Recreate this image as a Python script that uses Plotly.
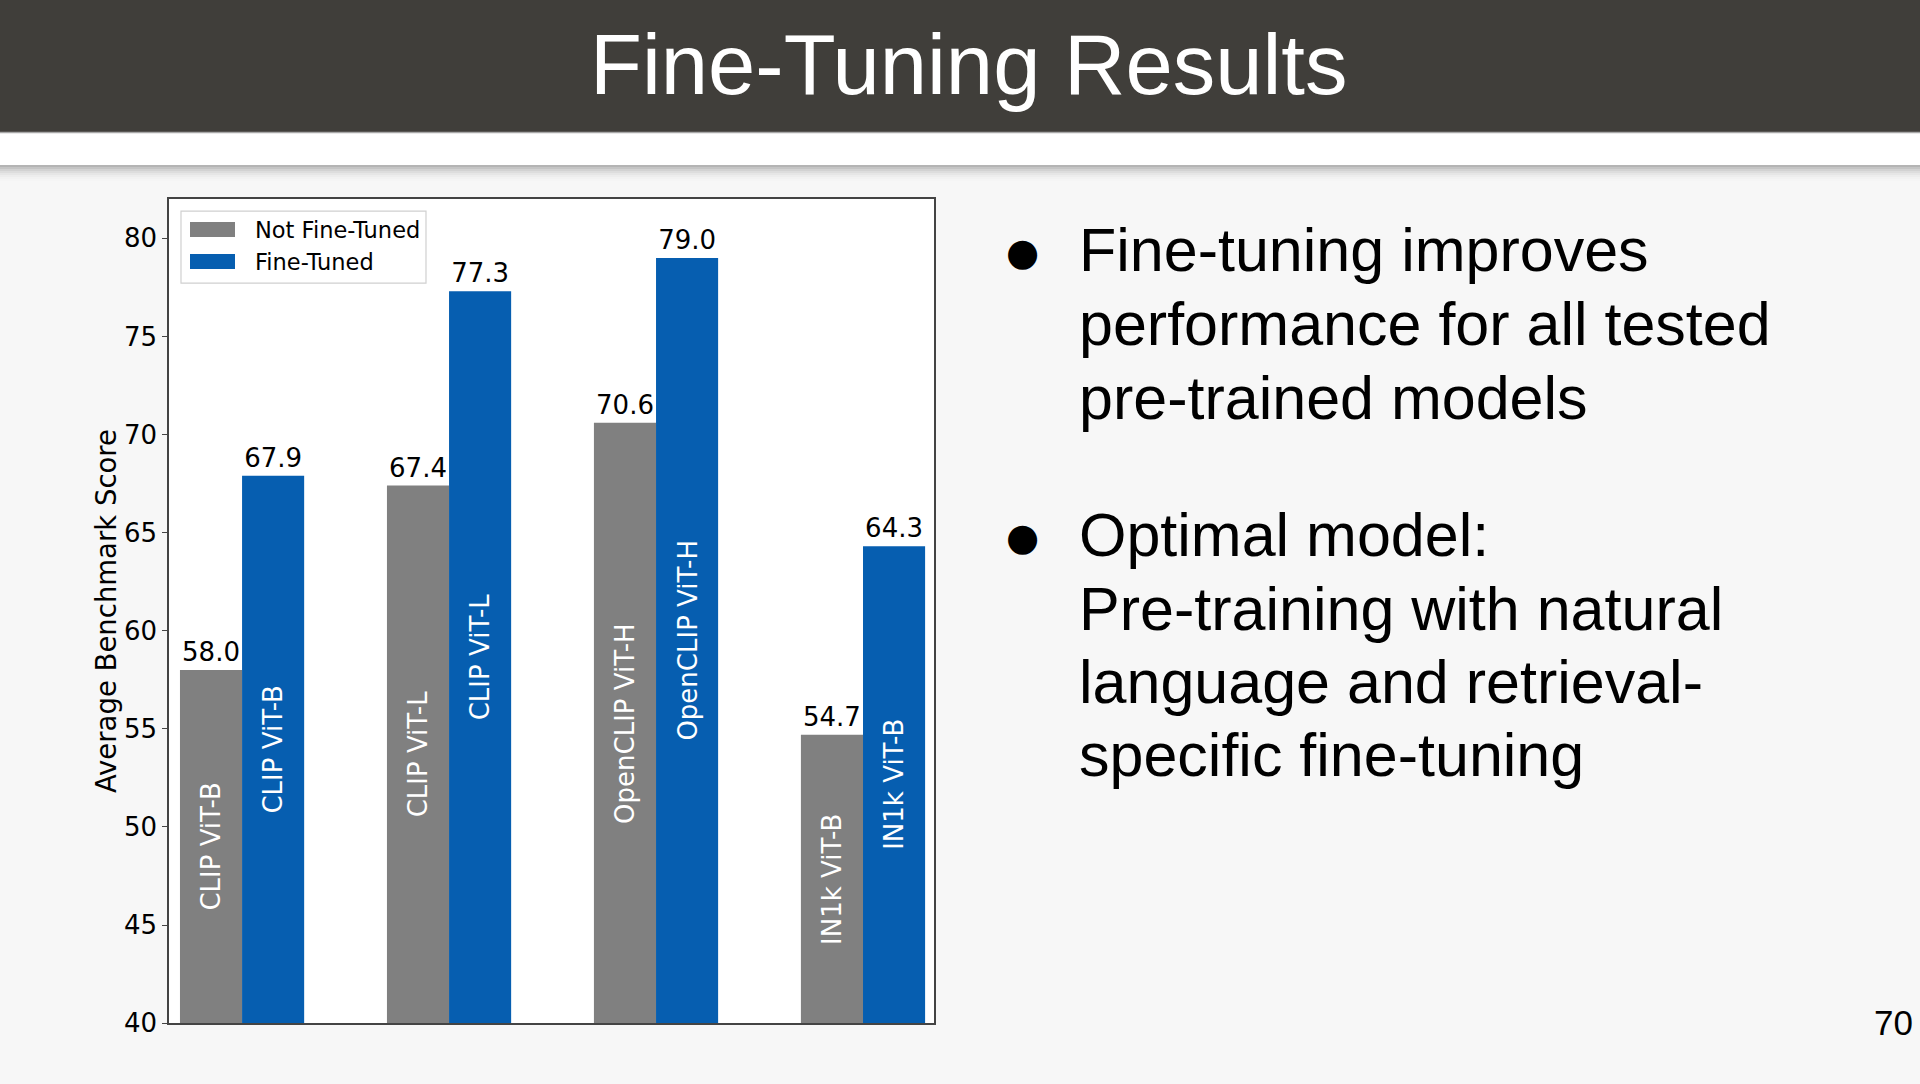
import plotly.graph_objects as go

# ---------------- data ----------------
groups = ["CLIP ViT-B", "CLIP ViT-L", "OpenCLIP ViT-H", "IN1k ViT-B"]
not_ft_names = ["CLIP ViT-B", "CLIP ViT-L", "OpenCLIP ViT-H", "IN1k ViT-B"]
ft_names = ["CLIP ViT-B", "CLIP ViT-L", "OpenCLIP ViT-H", "IN1k ViT-B"]
not_ft_values = [58.0, 67.4, 70.6, 54.7]
ft_values = [67.9, 77.3, 79.0, 64.3]
series_names = ["Not Fine-Tuned", "Fine-Tuned"]
y_range = [40, 82]
y_title = "Average Benchmark Score"
slide_title = "Fine-Tuning Results"
bullet1 = ["Fine-tuning improves", "performance for all tested", "pre-trained models"]
bullet2 = ["Optimal model:", "Pre-training with natural", "language and retrieval-", "specific fine-tuning"]
page_number = "70"

# ---------------- style ----------------
W, H = 1920, 1084
SY = 1.0142  # vertical compensation for the capture
GRAY = "#808080"
BLUE = "#065EB0"
CHART_FONT = "DejaVu Sans"
SLIDE_FONT = "Liberation Sans, Arial"
BG = "#F7F7F7"


def px_x(x):
    return x / W


def px_y(y):
    return 1 - y * SY / H


fig = go.Figure()

bar_w = 0.3
series = [
    (not_ft_names, not_ft_values, GRAY, series_names[0], -bar_w),
    (ft_names, ft_values, BLUE, series_names[1], 0.0),
]
for names, vals, color, sname, off in series:
    fig.add_trace(go.Bar(
        x=list(range(len(groups))), y=vals, name=sname, base=None,
        marker=dict(color=color, line=dict(width=0)),
        width=bar_w, offset=off,
        text=[f"{v:.1f}" for v in vals], textposition="outside",
        textangle=0, constraintext="none", cliponaxis=False,
        outsidetextfont=dict(family=CHART_FONT, size=26, color="black"),
        hovertext=names, hoverinfo="text+y",
        showlegend=False,
    ))

annotations = []
# rotated model names inside the bars (centred on the visible part of each bar)
for names, vals, color, sname, off in series:
    for i, (nm, v) in enumerate(zip(names, vals)):
        annotations.append(dict(
            text=nm, xref="x", yref="y", x=i + off + bar_w / 2, y=(y_range[0] + v) / 2,
            xanchor="center", yanchor="middle", textangle=-90, showarrow=False,
            font=dict(family=CHART_FONT, size=26, color="white")))

shapes = []
# header bar
shapes.append(dict(type="rect", xref="paper", yref="paper", x0=0, x1=1,
                   y0=px_y(132), y1=1.01, fillcolor="#403E3A", line=dict(width=0), layer="below"))
shapes.append(dict(type="rect", xref="paper", yref="paper", x0=0, x1=1,
                   y0=px_y(165), y1=px_y(132), fillcolor="white", line=dict(width=0), layer="below"))
shapes.append(dict(type="line", xref="paper", yref="paper", x0=0, x1=1,
                   y0=px_y(132.5), y1=px_y(132.5), line=dict(color="#A8A8A8", width=1.5), layer="below"))
shade = ["#B4B4B4", "#C4C4C4", "#D2D2D2", "#DDDDDD", "#E6E6E6", "#EDEDED", "#F2F2F2", "#F5F5F5"]
for i, c in enumerate(shade):
    shapes.append(dict(type="rect", xref="paper", yref="paper", x0=0, x1=1,
                       y0=px_y(165 + 2 * (i + 1)), y1=px_y(165 + 2 * i),
                       fillcolor=c, line=dict(width=0), layer="below"))

# legend (drawn to mimic the wide patches of the original)
shapes.append(dict(type="rect", xref="paper", yref="paper", x0=px_x(181), x1=px_x(426),
                   y0=px_y(283), y1=px_y(211), fillcolor="white",
                   line=dict(color="#D0D0D0", width=1.2), layer="above"))
leg_rows = [(GRAY, series_names[0], 222, 237), (BLUE, series_names[1], 254, 269)]
for c, nm, t, b in leg_rows:
    shapes.append(dict(type="rect", xref="paper", yref="paper", x0=px_x(190), x1=px_x(235),
                       y0=px_y(b), y1=px_y(t), fillcolor=c, line=dict(width=0), layer="above"))
    annotations.append(dict(text=nm, xref="paper", yref="paper", x=px_x(253), y=px_y((t + b) / 2),
                            xanchor="left", yanchor="middle", showarrow=False,
                            font=dict(family=CHART_FONT, size=22.5, color="black")))

annotations.append(dict(text=slide_title, xref="paper", yref="paper",
                        x=px_x(969), y=px_y(64), xanchor="center", yanchor="middle",
                        showarrow=False, font=dict(family=SLIDE_FONT, size=85, color="white")))
annotations.append(dict(text=y_title, xref="paper", yref="paper",
                        x=px_x(106), y=px_y(611), xanchor="center", yanchor="middle",
                        textangle=-90, showarrow=False,
                        font=dict(family=CHART_FONT, size=27.5, color="black")))

line_y1 = [250, 324, 398]
line_y2 = [535, 609, 682, 755]
for txt, yy in zip(bullet1, line_y1):
    annotations.append(dict(text=txt, xref="paper", yref="paper", x=px_x(1077), y=px_y(yy),
                            xanchor="left", yanchor="middle", showarrow=False,
                            font=dict(family=SLIDE_FONT, size=61, color="black")))
for txt, yy in zip(bullet2, line_y2):
    annotations.append(dict(text=txt, xref="paper", yref="paper", x=px_x(1077), y=px_y(yy),
                            xanchor="left", yanchor="middle", showarrow=False,
                            font=dict(family=SLIDE_FONT, size=61, color="black")))
for yy in [line_y1[0], line_y2[0]]:
    annotations.append(dict(text="●", xref="paper", yref="paper", x=px_x(1022), y=px_y(yy + 2),
                            xanchor="center", yanchor="middle", showarrow=False,
                            font=dict(family="DejaVu Sans", size=38, color="black")))
annotations.append(dict(text=page_number, xref="paper", yref="paper", x=px_x(1893), y=px_y(1022),
                        xanchor="center", yanchor="middle", showarrow=False,
                        font=dict(family=SLIDE_FONT, size=35, color="black")))

fig.update_layout(
    width=W, height=H,
    margin=dict(l=0, r=0, t=0, b=0),
    paper_bgcolor=BG, plot_bgcolor="white",
    barmode="overlay",
    showlegend=False,
    xaxis=dict(domain=[px_x(169), px_x(934)],
               range=[-0.353, 3.343], showticklabels=False, ticks="",
               showgrid=False, zeroline=False,
               showline=True, linecolor="#444444", linewidth=1.5, mirror=True),
    yaxis=dict(domain=[px_y(1023), px_y(199)], range=y_range, dtick=5,
               tick0=40, ticks="outside", ticklen=5, tickcolor="#444444",
               tickfont=dict(family=CHART_FONT, size=26, color="black"),
               showgrid=False, zeroline=False,
               showline=True, linecolor="#444444", linewidth=1.5, mirror=True),
    shapes=shapes,
    annotations=annotations,
)

fig.write_html("out.html")
